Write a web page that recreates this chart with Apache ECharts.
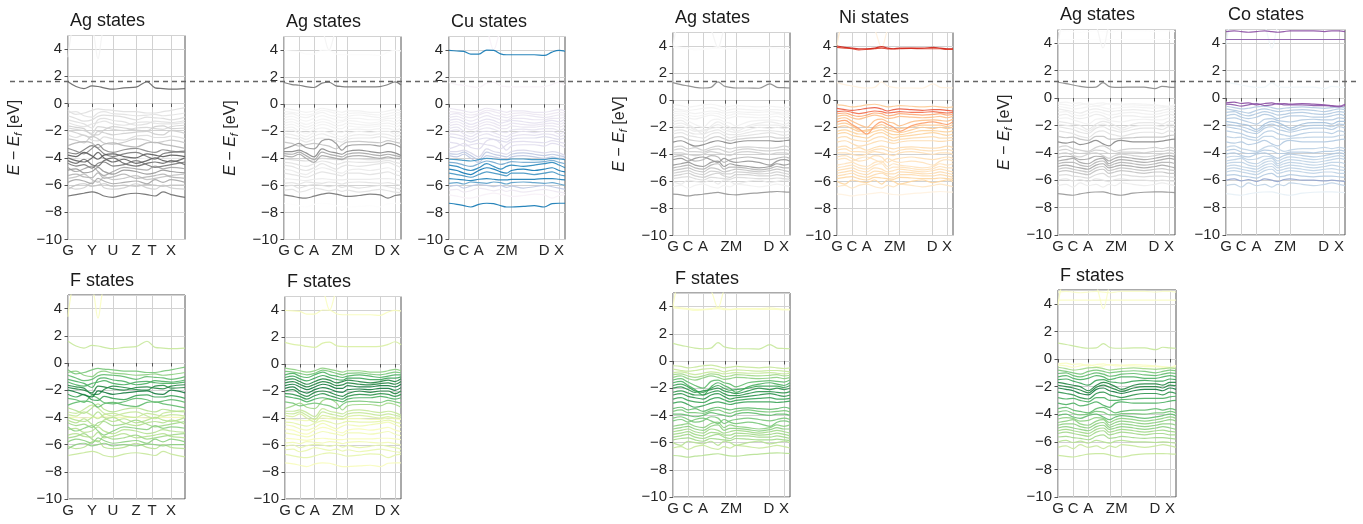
<!DOCTYPE html>
<html><head><meta charset="utf-8">
<script src="https://cdn.jsdelivr.net/npm/echarts@6/dist/echarts.min.js"></script>
<style>html,body{margin:0;padding:0;background:#fff}#c{width:1363px;height:524px}</style>
</head><body><div id="c"></div>
<script>
// ---------------- DATA ----------------
const yTicks = [-10, -8, -6, -4, -2, 0, 2, 4];
const guideLevel = 1.65; // dashed reference level (eV, in first panel's scale)

// k-path A
const kPosA = [0, 24, 45, 68, 84, 103];
const kLabA = ['G', 'Y', 'U', 'Z', 'T', 'X'];
const kxA = [0, 8, 16, 24, 30, 36, 45, 56, 68, 79, 87, 95, 103, 117];
// k-path B/C/D
const kPosB = [0, 15, 30, 52, 63, 96, 111];
const kLabB = ['G', 'C', 'A', 'Z', 'M', 'D', 'X'];
const kxB = [0, 8, 15, 22, 30, 38, 45, 52, 58, 63, 75, 86, 96, 104, 111, 117];
const kxC = [0, 8, 15, 22, 30, 38, 45, 51, 57, 63, 75, 86, 97, 104, 111, 117];
const kxD = [0, 8, 15, 22, 30, 38, 45, 51, 57, 63, 75, 86, 97, 104, 111, 117];

// compound 1 (Ag / F) bands
const bandsA = [
  [3.4, 6, 6, 6, 6, 6, 6, 6, 6, 6, 6, 6, 6, 6],
  [6, 6, 6, 5.6, 3.3, 5.6, 6, 6, 6, 6, 6, 6, 6, 6],
  [1.6, 1.25, 1.1, 1.3, 1.25, 1.15, 1.05, 1.15, 1.2, 1.6, 1.15, 1.1, 1.05, 1.1],
  [-0.5, -0.8, -0.7, -0.5, -0.4, -0.45, -0.5, -0.6, -0.6, -0.7, -0.7, -0.6, -0.5, -0.3],
  [-0.9, -1.1, -1.3, -1.2, -0.95, -0.85, -0.9, -1.0, -1.2, -1.0, -1.05, -1.1, -1.2, -1.0],
  [-1.4, -1.6, -1.7, -1.5, -1.4, -1.3, -1.5, -1.6, -1.4, -1.35, -1.45, -1.5, -1.5, -1.4],
  [-1.8, -1.9, -2.0, -2.2, -1.7, -1.75, -1.9, -2.0, -1.8, -1.75, -1.85, -1.9, -1.7, -1.6],
  [-2.0, -2.15, -2.35, -2.5, -2.05, -2.15, -2.3, -2.2, -2.1, -2.05, -2.25, -2.3, -2.0, -2.2],
  [-2.3, -2.5, -2.3, -2.7, -2.75, -2.45, -2.6, -2.7, -2.4, -2.35, -2.5, -2.5, -2.4, -2.6],
  [-3.1, -2.9, -2.8, -2.9, -3.25, -3.0, -2.9, -3.1, -3.2, -2.9, -2.85, -3.0, -3.1, -3.3],
  [-3.3, -3.5, -3.7, -3.3, -3.0, -3.4, -3.6, -3.4, -3.3, -3.5, -3.6, -3.4, -3.5, -3.6],
  [-3.8, -3.9, -3.6, -3.85, -4.1, -3.8, -3.7, -3.9, -4.0, -3.7, -3.8, -3.9, -3.8, -3.9],
  [-4.0, -4.2, -4.3, -4.0, -3.6, -4.0, -4.3, -4.1, -4.4, -4.2, -4.0, -4.2, -4.3, -4.0],
  [-4.0, -4.0, -4.05, -4.0, -4.0, -3.95, -4.0, -4.0, -4.0, -4.05, -4.0, -4.0, -4.0, -4.0],
  [-4.4, -4.6, -4.5, -4.75, -4.4, -4.3, -4.6, -4.5, -4.2, -4.5, -4.7, -4.6, -4.5, -4.3],
  [-4.9, -4.8, -5.1, -5.0, -4.7, -5.0, -5.2, -4.9, -5.0, -5.2, -5.1, -4.9, -5.0, -5.1],
  [-5.3, -5.2, -5.4, -5.45, -5.1, -5.5, -5.4, -5.2, -5.5, -5.4, -5.3, -5.2, -5.4, -5.5],
  [-5.8, -5.6, -5.7, -5.9, -5.5, -5.7, -5.9, -5.8, -5.7, -5.9, -5.6, -5.8, -5.6, -5.8],
  [-6.3, -6.0, -5.9, -6.1, -6.0, -5.9, -6.1, -6.0, -6.1, -5.95, -6.0, -6.1, -6.0, -6.0],
  [-6.8, -6.7, -6.6, -6.5, -6.6, -6.8, -6.9, -6.7, -6.6, -6.7, -6.8, -6.5, -6.7, -6.9],
  [-0.7, -0.6, -0.9, -1.0, -0.7, -0.6, -0.75, -0.8, -0.9, -0.85, -0.8, -0.9, -0.85, -0.7],
  [-1.2, -1.35, -1.5, -1.8, -1.2, -1.1, -1.25, -1.35, -1.6, -1.5, -1.3, -1.35, -1.4, -1.25],
  [-1.65, -1.75, -1.85, -2.3, -2.3, -1.95, -1.7, -1.8, -1.95, -2.0, -1.7, -1.65, -1.85, -1.8],
  [-2.6, -2.7, -2.9, -2.4, -2.6, -2.9, -3.0, -2.85, -2.6, -2.7, -2.9, -2.8, -2.7, -2.9],
  [-3.6, -3.7, -3.4, -3.1, -3.3, -3.7, -3.9, -3.7, -3.6, -3.9, -4.1, -3.7, -3.6, -3.5],
  [-4.2, -4.4, -4.1, -4.5, -4.6, -4.2, -4.0, -4.4, -4.6, -4.4, -4.3, -4.4, -4.2, -4.5],
  [-4.7, -5.0, -4.8, -4.6, -5.0, -5.3, -5.0, -4.7, -4.8, -4.9, -4.6, -4.8, -4.7, -4.8],
  [-5.5, -5.4, -5.2, -5.6, -5.8, -5.4, -5.6, -5.5, -5.3, -5.6, -5.5, -5.4, -5.3, -5.2],
  [-6.1, -6.3, -6.2, -5.8, -5.7, -6.2, -6.3, -6.2, -5.9, -6.2, -6.3, -6.0, -6.2, -6.3]
];
const wA_Ag = [0.12, 0.1, 0.68, 0.22, 0.24, 0.2, 0.27, 0.3, 0.24, 0.4, 0.55, 0.72, 0.7, 0.05, 0.6, 0.5, 0.4, 0.45, 0.35, 0.65,
               0.2, 0.22, 0.3, 0.32, 0.6, 0.65, 0.45, 0.35, 0.3];
const wA_F  = [0.12, 0.1, 0.3, 0.5, 0.55, 0.6, 0.75, 0.8, 0.65, 0.55, 0.35, 0.3, 0.35, 0.12, 0.4, 0.35, 0.35, 0.45, 0.45, 0.3,
               0.45, 0.6, 0.72, 0.55, 0.3, 0.35, 0.45, 0.4, 0.35];

// compound 2 (Ag / Cu / F) bands
const bandsB = [
  [6, 6, 6, 6, 6, 5.5, 4.0, 5.5, 6, 6, 6, 6, 6, 6, 6, 6],
  [3.97, 3.93, 3.9, 3.7, 3.7, 4.0, 3.98, 3.72, 3.65, 3.65, 3.65, 3.65, 3.6, 3.85, 3.97, 3.92],
  [1.6, 1.45, 1.4, 1.3, 1.23, 1.55, 1.62, 1.35, 1.3, 1.28, 1.28, 1.28, 1.3, 1.45, 1.65, 1.42],
  [-0.3, -0.4, -0.5, -0.6, -0.5, -0.3, -0.4, -0.5, -0.6, -0.5, -0.5, -0.6, -0.6, -0.5, -0.4, -0.5],
  [-0.8, -0.7, -0.9, -1.0, -0.8, -0.6, -0.8, -0.9, -1.0, -0.9, -0.8, -0.9, -1.0, -0.9, -0.8, -0.8],
  [-1.2, -1.1, -1.3, -1.5, -1.3, -1.1, -1.2, -1.4, -1.3, -1.2, -1.3, -1.4, -1.3, -1.2, -1.3, -1.1],
  [-1.6, -1.5, -1.7, -1.9, -1.7, -1.5, -1.6, -1.8, -1.8, -1.6, -1.7, -1.7, -1.6, -1.6, -1.7, -1.5],
  [-2.0, -1.9, -2.2, -2.4, -2.1, -2.0, -2.1, -2.3, -2.4, -2.2, -2.0, -2.1, -2.0, -2.0, -2.2, -2.0],
  [-2.4, -2.5, -2.6, -2.8, -2.6, -2.5, -2.6, -2.7, -2.8, -2.6, -2.5, -2.5, -2.4, -2.5, -2.6, -2.5],
  [-3.3, -3.1, -2.9, -3.2, -3.3, -2.7, -2.6, -2.9, -3.4, -3.1, -3.0, -3.0, -3.1, -2.9, -3.0, -3.2],
  [-3.5, -3.5, -3.4, -3.6, -3.9, -3.3, -3.5, -3.6, -3.7, -3.5, -3.4, -3.5, -3.6, -3.5, -3.6, -3.8],
  [-3.8, -3.9, -3.7, -4.0, -4.3, -3.8, -3.9, -4.0, -4.1, -3.9, -3.8, -3.9, -4.0, -3.9, -4.0, -4.0],
  [-4.07, -4.1, -4.15, -4.2, -4.1, -4.0, -4.05, -4.1, -4.1, -4.05, -4.05, -4.1, -4.1, -4.0, -4.05, -4.1],
  [-4.5, -4.6, -4.8, -4.9, -4.7, -4.4, -4.6, -4.8, -4.6, -4.5, -4.6, -4.5, -4.4, -4.3, -4.5, -4.7],
  [-4.8, -4.9, -5.1, -5.2, -4.9, -4.7, -4.8, -5.0, -5.1, -4.9, -4.8, -4.9, -4.8, -4.7, -4.9, -5.0],
  [-5.1, -5.2, -5.3, -5.4, -5.2, -5.0, -5.1, -5.2, -5.3, -5.1, -5.1, -5.2, -5.1, -5.0, -5.2, -5.3],
  [-5.5, -5.55, -5.6, -5.65, -5.55, -5.5, -5.55, -5.6, -5.6, -5.55, -5.55, -5.55, -5.5, -5.5, -5.55, -5.6],
  [-5.85, -5.8, -5.9, -5.75, -5.8, -5.85, -5.75, -5.8, -5.9, -5.8, -5.75, -5.8, -5.85, -5.8, -5.9, -6.0],
  [-6.1, -6.0, -6.2, -6.05, -5.95, -6.0, -6.1, -6.0, -6.15, -6.05, -6.2, -6.1, -6.0, -6.1, -6.2, -6.3],
  [-6.7, -6.8, -6.9, -6.94, -6.8, -6.65, -6.58, -6.65, -6.75, -6.82, -6.75, -6.65, -6.7, -6.94, -6.75, -6.68],
  [-7.32, -7.4, -7.5, -7.6, -7.4, -7.32, -7.35, -7.5, -7.6, -7.6, -7.55, -7.5, -7.6, -7.35, -7.32, -7.32],
  [-0.55, -0.6, -0.7, -0.8, -0.7, -0.45, -0.55, -0.7, -0.8, -0.7, -0.65, -0.75, -0.8, -0.7, -0.6, -0.65],
  [-1.0, -0.9, -1.1, -1.25, -1.05, -0.85, -1.0, -1.15, -1.2, -1.05, -1.05, -1.15, -1.15, -1.05, -1.05, -0.95],
  [-1.4, -1.3, -1.5, -1.7, -1.5, -1.3, -1.4, -1.6, -1.55, -1.4, -1.5, -1.55, -1.45, -1.4, -1.5, -1.3],
  [-1.8, -1.7, -2.0, -2.15, -1.9, -1.75, -1.85, -2.05, -2.1, -1.9, -1.85, -1.9, -1.8, -1.8, -1.95, -1.75],
  [-2.2, -2.25, -2.4, -2.6, -2.35, -2.2, -2.35, -2.5, -2.6, -2.4, -2.25, -2.3, -2.2, -2.25, -2.4, -2.25],
  [-2.8, -2.9, -3.1, -3.0, -2.9, -3.0, -3.1, -3.3, -3.0, -2.8, -2.75, -2.8, -2.85, -2.7, -2.8, -2.9],
  [-3.65, -3.7, -3.55, -3.8, -4.1, -3.55, -3.7, -3.8, -3.9, -3.7, -3.6, -3.7, -3.8, -3.7, -3.8, -3.9],
  [-4.3, -4.35, -4.5, -4.6, -4.4, -4.2, -4.3, -4.45, -4.35, -4.25, -4.3, -4.3, -4.25, -4.15, -4.3, -4.4],
  [-6.35, -6.3, -6.5, -6.4, -6.2, -6.3, -6.4, -6.3, -6.45, -6.35, -6.5, -6.4, -6.3, -6.4, -6.5, -6.55]
];
const wB_Ag = [0.1, 0.03, 0.62, 0.12, 0.12, 0.1, 0.1, 0.12, 0.18, 0.5, 0.55, 0.45, 0.25, 0.2, 0.15, 0.2, 0.15, 0.2, 0.22, 0.62, 0.02,
               0.1, 0.1, 0.12, 0.12, 0.15, 0.35, 0.45, 0.2, 0.2];
const wB_Cu = [0.05, 0.72, 0.05, 0.14, 0.14, 0.16, 0.14, 0.16, 0.2, 0.18, 0.22, 0.3, 0.62, 0.66, 0.72, 0.6, 0.7, 0.55, 0.3, 0.05, 0.72,
               0.12, 0.14, 0.14, 0.15, 0.16, 0.18, 0.3, 0.5, 0.12];
const wB_F  = [0.1, 0.12, 0.25, 0.45, 0.6, 0.75, 0.8, 0.75, 0.6, 0.4, 0.3, 0.25, 0.15, 0.15, 0.12, 0.15, 0.12, 0.15, 0.2, 0.2, 0.12,
               0.5, 0.65, 0.75, 0.8, 0.7, 0.5, 0.3, 0.2, 0.18];

// compound 3 (Ag / Ni / F) bands
const bandsC = [
  [6, 6, 6, 6, 6, 5.2, 3.9, 5.2, 6, 6, 6, 6, 6, 6, 6, 6],
  [4.0, 6, 6, 6, 6, 6, 6, 6, 6, 6, 6, 6, 6, 6, 6, 6],
  [4.0, 3.9, 3.85, 3.8, 3.8, 3.85, 3.95, 3.85, 3.8, 3.85, 3.85, 3.85, 3.9, 3.85, 3.8, 3.8],
  [3.9, 3.85, 3.8, 3.72, 3.75, 3.8, 3.85, 3.78, 3.78, 3.8, 3.82, 3.8, 3.8, 3.8, 3.75, 3.75],
  [1.3, 1.15, 1.05, 0.95, 0.9, 0.95, 1.35, 1.05, 0.95, 0.9, 0.9, 0.88, 1.2, 0.95, 0.92, 0.9],
  [-0.6, -0.7, -0.75, -0.7, -0.6, -0.55, -0.65, -0.8, -0.7, -0.65, -0.7, -0.75, -0.7, -0.7, -0.75, -0.8],
  [-0.85, -0.8, -0.9, -1.0, -0.9, -0.8, -0.85, -0.95, -0.9, -0.85, -0.9, -0.9, -0.85, -0.9, -0.95, -0.9],
  [-1.2, -1.1, -1.3, -1.4, -1.25, -1.1, -1.2, -1.35, -1.3, -1.2, -1.25, -1.3, -1.25, -1.2, -1.3, -1.2],
  [-1.6, -1.5, -1.8, -2.1, -2.5, -1.9, -1.6, -1.8, -2.0, -2.3, -1.9, -1.7, -1.6, -1.7, -1.8, -1.6],
  [-2.0, -1.9, -2.1, -2.3, -2.2, -2.1, -2.0, -2.2, -2.3, -2.4, -2.2, -2.0, -2.1, -2.0, -2.1, -2.0],
  [-2.5, -2.4, -2.6, -2.7, -2.8, -2.5, -2.4, -2.6, -2.8, -2.7, -2.6, -2.5, -2.4, -2.5, -2.6, -2.5],
  [-3.1, -3.0, -3.2, -3.4, -3.3, -3.1, -3.0, -3.1, -3.2, -3.1, -3.0, -3.0, -3.0, -3.05, -3.0, -2.95],
  [-3.5, -3.4, -3.6, -3.5, -3.7, -3.5, -3.4, -3.5, -3.6, -3.5, -3.45, -3.5, -3.55, -3.5, -3.4, -3.5],
  [-3.9, -3.9, -4.0, -4.1, -4.0, -3.8, -3.9, -4.0, -4.1, -3.9, -3.8, -3.9, -4.0, -3.9, -3.9, -4.0],
  [-4.4, -4.3, -4.5, -4.3, -4.2, -4.4, -4.6, -4.3, -4.5, -4.6, -4.5, -4.6, -4.8, -4.5, -4.4, -4.5],
  [-4.8, -4.7, -4.6, -4.8, -4.9, -4.6, -4.5, -4.9, -4.7, -4.8, -4.9, -5.0, -4.9, -4.7, -4.8, -4.7],
  [-5.2, -5.1, -5.0, -5.2, -5.3, -5.0, -5.1, -5.3, -5.2, -5.1, -5.2, -5.3, -5.2, -5.1, -5.2, -5.3],
  [-5.6, -5.5, -5.4, -5.6, -5.7, -5.5, -5.4, -5.6, -5.7, -5.5, -5.5, -5.6, -5.6, -5.5, -5.6, -5.7],
  [-6.0, -6.2, -5.9, -6.0, -6.1, -5.9, -6.2, -5.9, -6.0, -6.2, -6.0, -5.9, -6.1, -6.0, -5.9, -6.0],
  [-6.4, -6.3, -6.5, -6.3, -6.2, -6.4, -6.5, -6.3, -6.4, -6.2, -6.3, -6.4, -6.3, -6.2, -6.3, -6.4],
  [-6.95, -7.0, -7.07, -7.0, -6.95, -6.87, -6.82, -6.9, -6.97, -7.0, -6.9, -6.85, -6.78, -6.75, -6.78, -6.8],
  [-0.35, -0.4, -0.5, -0.45, -0.35, -0.3, -0.4, -0.5, -0.45, -0.4, -0.45, -0.5, -0.45, -0.5, -0.55, -0.5],
  [-1.0, -0.95, -1.1, -1.2, -1.1, -0.95, -1.0, -1.15, -1.1, -1.0, -1.05, -1.1, -1.05, -1.0, -1.1, -1.05],
  [-1.4, -1.3, -1.55, -1.8, -2.0, -1.5, -1.4, -1.6, -1.7, -1.9, -1.6, -1.5, -1.45, -1.5, -1.55, -1.4],
  [-1.8, -1.7, -1.9, -2.2, -2.3, -2.0, -1.8, -2.0, -2.15, -2.1, -2.0, -1.85, -1.85, -1.85, -1.95, -1.8],
  [-2.3, -2.2, -2.35, -2.5, -2.5, -2.3, -2.2, -2.4, -2.55, -2.55, -2.4, -2.25, -2.25, -2.3, -2.35, -2.25],
  [-2.8, -2.7, -2.9, -3.0, -3.05, -2.8, -2.7, -2.85, -3.0, -2.9, -2.8, -2.75, -2.7, -2.8, -2.8, -2.75],
  [-3.7, -3.6, -3.8, -3.8, -3.85, -3.65, -3.6, -3.75, -3.85, -3.7, -3.6, -3.7, -3.75, -3.7, -3.65, -3.75],
  [-4.2, -4.1, -4.3, -4.5, -4.4, -4.1, -4.2, -4.6, -4.4, -4.3, -4.2, -4.3, -4.4, -4.3, -4.2, -4.3],
  [-5.0, -4.9, -4.8, -5.0, -5.1, -4.8, -4.7, -5.1, -4.95, -4.95, -5.05, -5.15, -5.05, -4.9, -5.0, -5.0],
  [-5.4, -5.3, -5.2, -5.4, -5.5, -5.25, -5.3, -5.45, -5.45, -5.3, -5.35, -5.45, -5.4, -5.3, -5.4, -5.5],
  [-5.8, -5.7, -5.65, -5.8, -5.9, -5.7, -5.75, -5.8, -5.85, -5.7, -5.75, -5.8, -5.8, -5.75, -5.8, -5.85]
];
const wC_Ag = [0.1, 0.08, 0.03, 0.03, 0.55, 0.12, 0.12, 0.12, 0.15, 0.15, 0.2, 0.55, 0.3, 0.3, 0.5, 0.5, 0.35, 0.3, 0.15, 0.12, 0.5,
               0.1, 0.1, 0.12, 0.15, 0.18, 0.3, 0.3, 0.4, 0.4, 0.3, 0.25];
const wC_Ni = [0.05, 0.1, 0.78, 0.72, 0.05, 0.65, 0.6, 0.35, 0.45, 0.3, 0.25, 0.2, 0.2, 0.18, 0.16, 0.16, 0.18, 0.2, 0.24, 0.14, 0.04,
               0.3, 0.42, 0.35, 0.3, 0.25, 0.2, 0.18, 0.18, 0.16, 0.2, 0.24];
const wC_F  = [0.1, 0.1, 0.1, 0.08, 0.3, 0.3, 0.3, 0.45, 0.6, 0.7, 0.7, 0.65, 0.55, 0.55, 0.5, 0.45, 0.4, 0.4, 0.35, 0.3, 0.35,
               0.3, 0.4, 0.55, 0.65, 0.7, 0.65, 0.5, 0.5, 0.45, 0.4, 0.4];

// compound 4 (Ag / Co / F) bands
const bandsD = [
  [6, 6, 6, 6, 6, 5.3, 3.65, 5.3, 6, 6, 6, 6, 6, 6, 6, 6],
  [3.9, 6, 6, 6, 6, 6, 6, 6, 6, 6, 6, 6, 6, 6, 6, 6],
  [4.85, 4.9, 4.85, 4.8, 4.85, 4.9, 4.85, 4.8, 4.85, 4.9, 4.9, 4.9, 4.85, 4.9, 4.9, 4.85],
  [4.27, 4.27, 4.27, 4.27, 4.27, 4.27, 4.27, 4.27, 4.27, 4.27, 4.27, 4.27, 4.27, 4.27, 4.27, 4.27],
  [1.15, 1.05, 0.95, 0.85, 0.78, 0.8, 1.12, 0.85, 0.78, 0.78, 0.8, 0.8, 0.68, 0.85, 0.8, 0.78],
  [-0.35, -0.3, -0.4, -0.35, -0.5, -0.4, -0.35, -0.45, -0.4, -0.45, -0.4, -0.45, -0.5, -0.55, -0.6, -0.45],
  [-0.45, -0.5, -0.6, -0.5, -0.4, -0.55, -0.5, -0.4, -0.5, -0.5, -0.5, -0.55, -0.55, -0.6, -0.65, -0.55],
  [-0.8, -0.9, -1.0, -1.1, -0.9, -0.8, -0.9, -1.0, -0.95, -0.9, -0.85, -0.9, -1.0, -0.9, -0.8, -0.85],
  [-1.3, -1.2, -1.4, -1.5, -1.4, -1.2, -1.3, -1.5, -1.4, -1.3, -1.3, -1.4, -1.4, -1.3, -1.2, -1.3],
  [-1.7, -1.8, -1.9, -2.0, -2.3, -1.9, -1.7, -1.8, -2.0, -2.2, -1.9, -1.8, -1.8, -1.9, -1.7, -1.7],
  [-2.1, -2.2, -2.3, -2.5, -2.6, -2.2, -2.1, -2.3, -2.4, -2.5, -2.3, -2.2, -2.2, -2.3, -2.1, -2.2],
  [-3.2, -3.3, -3.2, -3.4, -3.3, -3.1, -3.35, -3.5, -3.2, -3.1, -3.2, -3.2, -3.2, -3.15, -3.05, -3.0],
  [-3.6, -3.5, -3.7, -3.8, -3.9, -3.6, -3.5, -3.7, -3.9, -3.8, -3.7, -3.7, -3.6, -3.7, -3.6, -3.7],
  [-4.1, -4.0, -4.2, -4.3, -4.1, -4.0, -4.2, -4.4, -4.2, -4.1, -4.2, -4.3, -4.2, -4.1, -4.0, -4.1],
  [-4.6, -4.5, -4.4, -4.7, -4.8, -4.5, -4.4, -4.8, -4.6, -4.5, -4.6, -4.7, -4.6, -4.5, -4.4, -4.5],
  [-5.0, -4.9, -5.0, -5.1, -5.2, -4.9, -4.8, -5.1, -5.0, -4.9, -5.0, -5.1, -5.0, -4.9, -5.0, -5.1],
  [-5.4, -5.3, -5.4, -5.5, -5.6, -5.3, -5.2, -5.5, -5.4, -5.3, -5.4, -5.5, -5.4, -5.4, -5.5, -5.5],
  [-6.0, -5.9, -6.05, -5.95, -6.1, -5.9, -6.0, -6.1, -5.95, -5.9, -6.0, -6.0, -6.05, -6.0, -6.05, -6.1],
  [-6.4, -6.3, -6.5, -6.2, -6.4, -6.3, -6.5, -6.3, -6.4, -6.2, -6.3, -6.4, -6.3, -6.2, -6.3, -6.4],
  [-6.98, -7.05, -7.1, -7.0, -6.9, -6.86, -6.85, -6.95, -7.05, -7.1, -6.95, -6.88, -6.85, -6.85, -6.88, -6.9],
  [-0.6, -0.7, -0.8, -0.75, -0.65, -0.6, -0.7, -0.8, -0.75, -0.7, -0.65, -0.7, -0.75, -0.7, -0.65, -0.7],
  [-1.05, -1.0, -1.2, -1.3, -1.15, -1.0, -1.1, -1.25, -1.2, -1.1, -1.05, -1.15, -1.2, -1.1, -1.0, -1.05],
  [-1.5, -1.45, -1.6, -1.75, -1.9, -1.55, -1.5, -1.65, -1.7, -1.75, -1.6, -1.55, -1.6, -1.6, -1.45, -1.5],
  [-1.9, -2.0, -2.1, -2.25, -2.45, -2.05, -1.9, -2.05, -2.2, -2.35, -2.1, -2.0, -2.0, -2.1, -1.9, -1.95],
  [-2.4, -2.5, -2.6, -2.8, -2.9, -2.5, -2.4, -2.6, -2.7, -2.8, -2.6, -2.5, -2.5, -2.6, -2.4, -2.5],
  [-2.8, -2.9, -2.85, -3.0, -3.1, -2.8, -2.8, -3.0, -3.0, -2.95, -2.9, -2.85, -2.85, -2.85, -2.75, -2.7],
  [-3.85, -3.75, -3.95, -4.05, -4.0, -3.8, -3.85, -4.05, -4.05, -3.95, -3.95, -4.0, -3.9, -3.9, -3.8, -3.9],
  [-4.35, -4.25, -4.3, -4.5, -4.45, -4.25, -4.3, -4.6, -4.4, -4.3, -4.4, -4.5, -4.4, -4.3, -4.2, -4.3],
  [-4.8, -4.7, -4.7, -4.9, -5.0, -4.7, -4.6, -4.95, -4.8, -4.7, -4.8, -4.9, -4.8, -4.7, -4.7, -4.8],
  [-5.2, -5.1, -5.2, -5.3, -5.4, -5.1, -5.0, -5.3, -5.2, -5.1, -5.2, -5.3, -5.2, -5.15, -5.25, -5.3],
  [-5.65, -5.6, -5.7, -5.75, -5.85, -5.6, -5.5, -5.75, -5.7, -5.6, -5.7, -5.75, -5.7, -5.7, -5.75, -5.8]
];
const wD_Ag = [0.1, 0.08, 0.02, 0.02, 0.55, 0.1, 0.1, 0.15, 0.15, 0.18, 0.2, 0.55, 0.3, 0.3, 0.45, 0.45, 0.35, 0.2, 0.15, 0.5,
               0.1, 0.12, 0.12, 0.15, 0.2, 0.35, 0.3, 0.45, 0.4, 0.35, 0.25];
const wD_Co = [0.05, 0.1, 0.72, 0.68, 0.05, 0.72, 0.68, 0.3, 0.3, 0.35, 0.3, 0.3, 0.25, 0.3, 0.25, 0.25, 0.25, 0.45, 0.25, 0.1,
               0.3, 0.3, 0.3, 0.3, 0.28, 0.25, 0.3, 0.25, 0.25, 0.25, 0.3];
const wD_F  = [0.08, 0.1, 0.08, 0.1, 0.3, 0.1, 0.1, 0.5, 0.6, 0.75, 0.8, 0.6, 0.55, 0.55, 0.45, 0.45, 0.4, 0.35, 0.3, 0.3,
               0.4, 0.55, 0.65, 0.75, 0.7, 0.6, 0.5, 0.45, 0.45, 0.4, 0.4];

// ---------------- STYLE / LAYOUT ----------------
const CMAPS = {
  Greys: ['#ffffff','#f0f0f0','#d9d9d9','#bdbdbd','#969696','#737373','#525252','#252525','#000000'],
  PuBu:  ['#fff7fb','#ece7f2','#d0d1e6','#a6bddb','#74a9cf','#3690c0','#0570b0','#045a8d','#023858'],
  OrRd:  ['#fff7ec','#fee8c8','#fdd49e','#fdbb84','#fc8d59','#ef6548','#d7301f','#b30000','#7f0000'],
  BuPu:  ['#f7fcfd','#e0ecf4','#bfd3e6','#9ebcda','#8c96c6','#8c6bb1','#88419d','#810f7c','#4d004b'],
  YlGn:  ['#ffffe5','#f7fcb9','#d9f0a3','#addd8e','#78c679','#41ab5d','#238443','#006837','#004529']
};
function hex2rgb(h){return [parseInt(h.slice(1,3),16),parseInt(h.slice(3,5),16),parseInt(h.slice(5,7),16)];}
function cmap(name, w){
  const s = CMAPS[name];
  const t = Math.max(0, Math.min(1, w)) * (s.length - 1);
  const i = Math.min(Math.floor(t), s.length - 2), f = t - i;
  const a = hex2rgb(s[i]), b = hex2rgb(s[i+1]);
  const c = a.map((v,k)=>Math.round(v + (b[k]-v)*f));
  return 'rgb(' + c.join(',') + ')';
}

const panels = [
  {title:'Ag states', box:[68, 35.5, 117, 204],   kx:kxA, kp:kPosA, kl:kLabA, bands:bandsA, w:wA_Ag, cm:'Greys', yName:true},
  {title:'Ag states', box:[284, 36.5, 117, 203],  kx:kxB, kp:kPosB, kl:kLabB, bands:bandsB, w:wB_Ag, cm:'Greys', yName:true},
  {title:'Cu states', box:[449, 36.5, 116, 203],  kx:kxB, kp:kPosB, kl:kLabB, bands:bandsB, w:wB_Cu, cm:'PuBu', yName:false},
  {title:'Ag states', box:[673, 32.5, 117, 203],  kx:kxC, kp:kPosB, kl:kLabB, bands:bandsC, w:wC_Ag, cm:'Greys', yName:true},
  {title:'Ni states', box:[837, 32.5, 116, 203],  kx:kxC, kp:kPosB, kl:kLabB, bands:bandsC, w:wC_Ni, cm:'OrRd', yName:false},
  {title:'Ag states', box:[1058, 29.5, 117, 205.5], kx:kxD, kp:kPosB, kl:kLabB, bands:bandsD, w:wD_Ag, cm:'Greys', yName:true},
  {title:'Co states', box:[1226, 29.5, 119, 205.5], kx:kxD, kp:kPosB, kl:kLabB, bands:bandsD, w:wD_Co, cm:'BuPu', yName:false},
  {title:'F states', box:[68, 295, 117, 204],     kx:kxA, kp:kPosA, kl:kLabA, bands:bandsA, w:wA_F, cm:'YlGn', yName:false},
  {title:'F states', box:[285, 296.5, 116, 202.5],kx:kxB, kp:kPosB, kl:kLabB, bands:bandsB, w:wB_F, cm:'YlGn', yName:false},
  {title:'F states', box:[673, 293, 117, 204],    kx:kxC, kp:kPosB, kl:kLabB, bands:bandsC, w:wC_F, cm:'YlGn', yName:false},
  {title:'F states', box:[1058, 290, 118, 207],   kx:kxD, kp:kPosB, kl:kLabB, bands:bandsD, w:wD_F, cm:'YlGn', yName:false}
];

const FONT = 'Liberation Sans, Arial, sans-serif';
const TXT = '#262626';
const grids = [], xAxes = [], yAxes = [], series = [], titles = [];
const fmtY = v => (v < 0 ? '\u2212' + Math.abs(v) : String(v));

panels.forEach((p, i) => {
  const [l, t, w, h] = p.box;
  grids.push({left:l, top:t, width:w, height:h, show:true, borderColor:'#555', borderWidth:1, backgroundColor:'rgba(0,0,0,0)', containLabel:false});
  titles.push({text:p.title, left:l + 2, top:t - 23, padding:0,
    textStyle:{fontSize:18, fontWeight:'normal', color:'#1a1a1a', fontFamily:FONT}});
  xAxes.push({gridIndex:i, type:'value', min:0, max:117,
    axisLine:{show:false},
    axisTick:{show:true, customValues:p.kp, length:3.5, lineStyle:{color:'#555'}},
    axisLabel:{customValues:p.kp, formatter:(v)=>p.kl[p.kp.indexOf(v)], fontSize:15, color:TXT, margin:4, fontFamily:FONT},
    splitLine:{show:true, lineStyle:{color:'#d2d2d2', width:1}}});
  yAxes.push({gridIndex:i, type:'value', min:-10, max:5, interval:2,
    axisLine:{show:false},
    axisTick:{show:true, length:3.5, lineStyle:{color:'#555'}},
    axisLabel:{formatter:fmtY, fontSize:15, color:TXT, margin:6, fontFamily:FONT, showMaxLabel:false},
    splitLine:{show:true, lineStyle:{color:'#d2d2d2', width:1}},
    name: p.yName ? '{i|E} \u2212 {i|E}{s|f} [eV]' : '',
    nameLocation:'middle', nameGap:44, nameRotate:90,
    nameTextStyle:{fontSize:16, color:TXT, fontFamily:FONT,
      rich:{i:{fontStyle:'italic', fontSize:16, fontFamily:FONT, color:TXT},
            s:{fontStyle:'italic', fontSize:11, fontFamily:FONT, color:TXT, padding:[8,0,0,0]}}}});
  const order = p.bands.map((b, j) => j).sort((a, b) => p.w[a] - p.w[b]);
  order.forEach(j => {
    series.push({type:'line', xAxisIndex:i, yAxisIndex:i, silent:true, symbol:'none', smooth:0.35,
      clip:true, animation:false,
      data:p.kx.map((x, k) => [x, p.bands[j][k]]),
      lineStyle:{color:cmap(p.cm, p.w[j]), width:1.2, opacity:0.9}});
  });
});

// overlay grid for the dashed reference level (uses first panel's energy scale)
const gi = panels.length;
grids.push({left:10, right:6, top:35.5, height:204, show:false});
xAxes.push({gridIndex:gi, type:'value', min:0, max:1, show:false});
yAxes.push({gridIndex:gi, type:'value', min:-10, max:5, show:false});
series.push({type:'line', xAxisIndex:gi, yAxisIndex:gi, data:[[0, guideLevel]], symbol:'none', silent:true, z:10,
  markLine:{silent:true, symbol:'none', label:{show:false}, animation:false,
    lineStyle:{type:[5,4], color:'#666', width:1.4}, data:[{yAxis:guideLevel}]}});

const chart = echarts.init(document.getElementById('c'), null, {renderer:'canvas'});
chart.setOption({animation:false, backgroundColor:'#fff', title:titles, grid:grids, xAxis:xAxes, yAxis:yAxes, series:series});
</script></body></html>
